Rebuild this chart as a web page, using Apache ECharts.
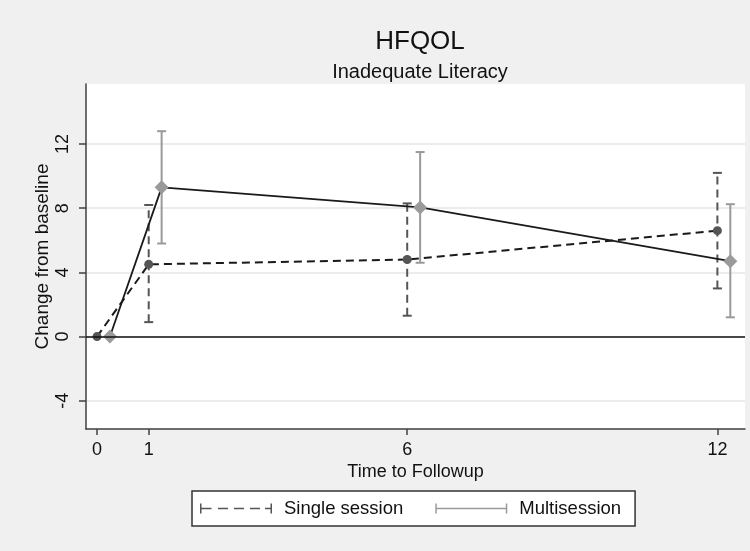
<!DOCTYPE html>
<html>
<head>
<meta charset="utf-8">
<script src="https://cdn.jsdelivr.net/npm/echarts@6/dist/echarts.min.js"></script>
<style>
  html, body { margin: 0; padding: 0; background: #f0f0f0; }
  #chart { width: 750px; height: 551px; }
</style>
</head>
<body>
<div id="chart"></div>
<script>
  // follow-up months and estimated change from baseline
  const singleX = [0, 1, 6, 12];
  const singleMean = [0, 4.5, 4.8, 6.6];
  const singleCiX = [1, 6, 12];
  const singleLow = [0.9, 1.3, 3.0];
  const singleHigh = [8.2, 8.3, 10.2];

  const multiX = [0.25, 1.25, 6.25, 12.25];
  const multiMean = [0, 9.3, 8.05, 4.7];
  const multiCiX = [1.25, 6.25, 12.25];
  const multiLow = [5.8, 4.6, 1.2];
  const multiHigh = [12.8, 11.5, 8.25];

  const xTicks = [0, 1, 6, 12];
  const yTicks = [-4, 0, 4, 8, 12];

  const font = "Liberation Sans";
  const colors = { single: "#555555", multi: "#9a9a9a", line: "#1a1a1a", axis: "#404040" };

  function pairs(xs, ys) {
    return xs.map((x, i) => [x, ys[i]]);
  }

  function errorBars(name, xs, lows, highs, color, dash) {
    return {
      name: name,
      type: "custom",
      z: 2,
      silent: true,
      encode: { x: 0, y: [1, 2] },
      data: xs.map((x, i) => [x, lows[i], highs[i]]),
      renderItem(params, api) {
        const lo = api.coord([api.value(0), api.value(1)]);
        const hi = api.coord([api.value(0), api.value(2)]);
        const w = 4.5;
        const style = { stroke: color, lineWidth: 2 };
        return {
          type: "group",
          children: [
            { type: "line", shape: { x1: lo[0], y1: lo[1], x2: hi[0], y2: hi[1] }, style: { ...style, lineDash: dash } },
            { type: "line", shape: { x1: lo[0] - w, y1: lo[1], x2: lo[0] + w, y2: lo[1] }, style: style },
            { type: "line", shape: { x1: hi[0] - w, y1: hi[1], x2: hi[0] + w, y2: hi[1] }, style: style },
          ],
        };
      },
    };
  }

  const singleIcon = "path://M0 0h1.5v10h-1.5z M1.5 4.2h10v1.6h-10z M18 4.2h10v1.6h-10z M34 4.2h10v1.6h-10z M50 4.2h10v1.6h-10z M65 4.2h7v1.6h-7z M70.5 0h1.5v10h-1.5z";
  const multiIcon = "path://M0 0h1.5v10h-1.5z M1.5 4.2h69v1.6h-69z M70.5 0h1.5v10h-1.5z";

  const chart = echarts.init(document.getElementById("chart"));
  chart.setOption({
    backgroundColor: "#f0f0f0",
    animation: false,
    textStyle: { fontFamily: font },
    title: {
      text: "HFQOL",
      subtext: "Inadequate Literacy",
      left: 415,
      textAlign: "center",
      top: 24,
      itemGap: 7,
      textStyle: { fontFamily: font, fontSize: 26, fontWeight: "normal", color: "#111" },
      subtextStyle: { fontFamily: font, fontSize: 20, color: "#111" },
    },
    grid: {
      left: 86, right: 5, top: 84, bottom: 122,
      show: true, backgroundColor: "#ffffff", borderWidth: 0,
    },
    legend: {
      left: 192,
      top: 491,
      padding: [8, 14, 8, 8],
      itemGap: 32,
      itemWidth: 72,
      itemHeight: 10,
      backgroundColor: "#ffffff",
      borderColor: "#333333",
      borderWidth: 1.5,
      borderRadius: 0,
      itemStyle: { borderWidth: 0 },
      textStyle: { fontFamily: font, fontSize: 18.5, color: "#111", padding: [0, 0, 0, 7] },
      data: [
        { name: "Single session", icon: singleIcon, itemStyle: { color: colors.single } },
        { name: "Multisession", icon: multiIcon, itemStyle: { color: colors.multi } },
      ],
    },
    xAxis: {
      type: "value",
      min: -0.213,
      max: 12.534,
      name: "Time to Followup",
      nameLocation: "middle",
      nameGap: 34,
      nameMoveOverlap: false,
      nameTextStyle: { fontFamily: font, fontSize: 18, color: "#111" },
      axisLine: { onZero: false, lineStyle: { color: colors.axis, width: 1.5 } },
      axisTick: { customValues: xTicks, length: 6, lineStyle: { color: colors.axis, width: 1.5 } },
      axisLabel: { customValues: xTicks, margin: 12, fontFamily: font, fontSize: 18, color: "#111" },
      splitLine: { show: false },
    },
    yAxis: {
      type: "value",
      min: -5.76,
      max: 15.74,
      name: "Change from baseline",
      nameLocation: "middle",
      nameGap: 34,
      nameMoveOverlap: false,
      nameTextStyle: { fontFamily: font, fontSize: 19, color: "#111" },
      axisLine: { show: true, onZero: false, lineStyle: { color: colors.axis, width: 1.5 } },
      axisTick: { show: true, customValues: yTicks, length: 7, lineStyle: { color: colors.axis, width: 1.5 } },
      axisLabel: { customValues: yTicks, rotate: 90, margin: 14, fontFamily: font, fontSize: 18, color: "#111" },
      splitLine: { show: true, lineStyle: { color: "#e6e6e6", width: 1.5 } },
    },
    series: [
      errorBars("Single session CI", singleCiX, singleLow, singleHigh, colors.single, [8, 5]),
      errorBars("Multisession CI", multiCiX, multiLow, multiHigh, colors.multi, null),
      {
        name: "Single session",
        type: "line",
        z: 3,
        data: pairs(singleX, singleMean),
        symbol: "circle",
        symbolSize: 9,
        itemStyle: { color: colors.single, borderWidth: 0 },
        lineStyle: { color: colors.line, width: 2, type: [8, 5] },
        markLine: {
          silent: true,
          symbol: "none",
          label: { show: false },
          lineStyle: { color: "#111", width: 1.5, type: "solid" },
          data: [{ yAxis: 0 }],
        },
      },
      {
        name: "Multisession",
        type: "line",
        z: 3,
        data: pairs(multiX, multiMean),
        symbol: "diamond",
        symbolSize: 14,
        itemStyle: { color: colors.multi, borderWidth: 0 },
        lineStyle: { color: colors.line, width: 1.8, type: "solid" },
      },
    ],
  });
</script>
</body>
</html>
